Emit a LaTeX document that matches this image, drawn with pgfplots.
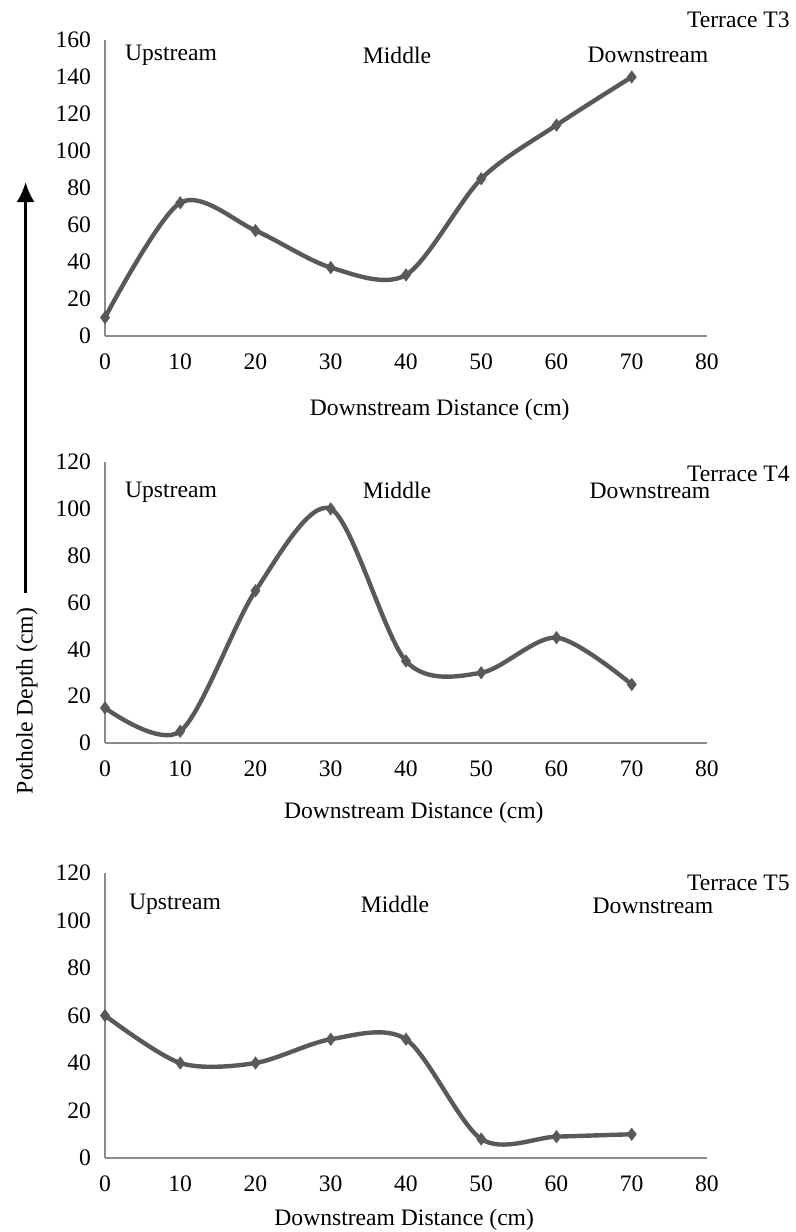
\documentclass[border=0pt]{standalone}
\usepackage{fontspec}
\setmainfont{Liberation Serif}
\usepackage{pgfplots}
\pgfplotsset{compat=1.18}
\usetikzlibrary{arrows.meta}
\definecolor{linegray}{HTML}{595959}
\definecolor{axisgray}{HTML}{8C8C8C}
\newcommand{\lbl}{\fontsize{11.8}{14}\selectfont}
\pgfplotsset{
 panel/.style={
  scale only axis, width=301pt,
  xmin=0, xmax=80, ymin=0,
  axis lines=left,
  axis line style={axisgray, line width=0.8pt, -},
  xtick={0,10,...,80},
  major tick length=0pt,
  tick style={draw=none},
  /pgf/number format/assume math mode=true,
  ticklabel style={font=\lbl},
  xticklabel style={yshift=-5.5pt},
  yticklabel style={xshift=-3.5pt},
  label style={font=\lbl},
  clip=false,
 },
 series/.style={linegray, line width=2.2pt, smooth, tension=0.5,
   mark=diamond*, mark size=3pt, mark options={linegray, solid, line width=0.4pt}},
}
\begin{document}
\begin{tikzpicture}
\path[use as bounding box] (0,0) rectangle (398pt,-616pt);
% Panel T3
\begin{axis}[panel, at={(52.5pt,-168pt)}, anchor=south west, height=148pt,
  ymax=160, ytick={0,20,...,160},
  xlabel={Downstream Distance (cm)},
  xlabel style={at={(axis description cs:0.556,0)}, anchor=center, yshift=-37pt}]
\addplot[series] coordinates {(0,10) (10,72) (20,57) (30,37) (40,33) (50,85) (60,114) (70,140)};
\end{axis}
% Panel T4
\begin{axis}[panel, at={(52.5pt,-371.5pt)}, anchor=south west, height=140.5pt,
  ymax=120, ytick={0,20,...,120},
  xlabel={Downstream Distance (cm)},
  xlabel style={at={(axis description cs:0.513,0)}, anchor=center, yshift=-35pt}]
\addplot[series] coordinates {(0,15) (10,5) (20,65) (30,100) (40,35) (50,30) (60,45) (70,25)};
\end{axis}
% Panel T5
\begin{axis}[panel, at={(52.5pt,-579pt)}, anchor=south west, height=142.5pt,
  ymax=120, ytick={0,20,...,120},
  xlabel={Downstream Distance (cm)},
  xlabel style={at={(axis description cs:0.497,0)}, anchor=center, yshift=-31pt}]
\addplot[series] coordinates {(0,60) (10,40) (20,40) (30,50) (40,50) (50,8) (60,9) (70,10)};
\end{axis}
% annotations
\begin{scope}[every node/.style={font=\lbl, inner sep=0pt}]
\node[anchor=east] at (395pt,-10pt) {Terrace T3};
\node[anchor=east] at (395pt,-237pt) {Terrace T4};
\node[anchor=east] at (395pt,-441.5pt) {Terrace T5};
\node at (85.5pt,-27.5pt) {Upstream};
\node at (198.5pt,-27.5pt) {Middle};
\node at (324pt,-27.5pt) {Downstream};
\node at (85.5pt,-246pt) {Upstream};
\node at (198.5pt,-245pt) {Middle};
\node at (325pt,-245.5pt) {Downstream};
\node at (87.5pt,-452pt) {Upstream};
\node at (197.5pt,-452pt) {Middle};
\node at (326.5pt,-453pt) {Downstream};
\node[rotate=90] at (13.5pt,-350.5pt) {Pothole Depth (cm)};
\end{scope}
\draw[-{Latex[length=10pt,width=9pt]}, line width=1.5pt] (12.8pt,-296.5pt) -- (12.8pt,-91pt);
\end{tikzpicture}
\end{document}
